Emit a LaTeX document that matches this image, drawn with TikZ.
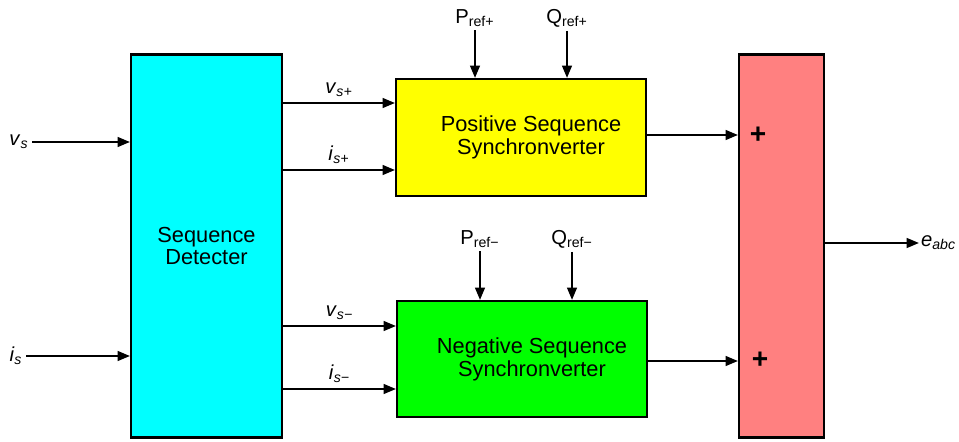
\documentclass[tikz,border=0pt]{standalone}
\usepackage{fontspec}
\setmainfont{Liberation Sans}
\usetikzlibrary{arrows.meta, positioning}
\definecolor{detcyan}{RGB}{0,255,255}
\definecolor{posyellow}{RGB}{255,255,0}
\definecolor{neggreen}{RGB}{0,255,0}
\definecolor{sumred}{RGB}{255,128,128}
\newcommand{\sig}[2]{\textit{#1}\textsubscript{\textit{#2}}}
\newcommand{\refsig}[2]{#1\textsubscript{#2}}

\begin{document}
\begin{tikzpicture}[
      x=0.02cm, y=-0.02cm,
      font=\fontsize{12.4}{13}\selectfont,
      block/.style={draw, line width=1.2pt, align=center, inner sep=0pt},
      lbl/.style={inner sep=2pt, font=\fontsize{11.5}{13}\selectfont},
      arr/.style={-{Triangle[length=7pt, width=5.5pt]}, line width=1.2pt},
  ]
  \useasboundingbox (0,0) rectangle (959,442);

  %% blocks
  \node[block, fill=detcyan, minimum width=3.02cm, minimum height=7.66cm]
        (det) at (206.5,246) {Sequence\\Detecter};
  \node[block, fill=posyellow, minimum width=5.0cm, minimum height=2.34cm]
        (pos) at (521,137.5) {\hspace{0.4cm}Positive Sequence\\\hspace{0.4cm}Synchronverter};
  \node[block, fill=neggreen, minimum width=5.0cm, minimum height=2.32cm]
        (neg) at (522,359) {\hspace{0.4cm}Negative Sequence\\\hspace{0.4cm}Synchronverter};
  \node[block, fill=sumred, minimum width=1.7cm, minimum height=7.66cm]
        (sum) at (781.5,246) {};

  %% signs on the adder
  \node[font=\fontsize{16}{16}\selectfont\bfseries] (plusA) at (758,135) {+};
  \node[font=\fontsize{16}{16}\selectfont\bfseries] (plusB) at (760,360) {+};

  %% inputs and outputs
  \node[lbl] (vs) at (19,142) {\sig{v}{s}};
  \node[lbl] (is) at (16,356) {\sig{i}{s}};
  \node[lbl, anchor=west, inner sep=1pt] (eabc) at (919,243) {\sig{e}{abc}};

  \node[lbl] (prefp) at (475,18) {\refsig{P}{ref+}};
  \node[lbl] (qrefp) at (567,18) {\refsig{Q}{ref+}};
  \node[lbl] (prefn) at (480,239) {\refsig{P}{ref−}};
  \node[lbl] (qrefn) at (572,239) {\refsig{Q}{ref−}};

  %% arrows
  \draw[arr] (vs.east) -- (vs -| det.west);
  \draw[arr] (is.east) -- (is -| det.west);

  \draw[arr] (det.east |- {0,103}) -- node[lbl, above=1pt]{\sig{v}{s+}} (pos.west |- {0,103});
  \draw[arr] (det.east |- {0,170}) -- node[lbl, above=1pt]{\sig{i}{s+}} (pos.west |- {0,170});
  \draw[arr] (det.east |- {0,326}) -- node[lbl, above=1pt]{\sig{v}{s−}} (neg.west |- {0,326});
  \draw[arr] (det.east |- {0,389}) -- node[lbl, above=1pt]{\sig{i}{s−}} (neg.west |- {0,389});

  \draw[arr] (prefp.south) -- (prefp |- pos.north);
  \draw[arr] (qrefp.south) -- (qrefp |- pos.north);
  \draw[arr] (prefn.south) -- (prefn |- neg.north);
  \draw[arr] (qrefn.south) -- (qrefn |- neg.north);

  \draw[arr] (pos.east |- {0,135}) -- (sum.west |- {0,135});
  \draw[arr] (neg.east |- {0,361}) -- (sum.west |- {0,361});
  \draw[arr] (sum.east |- eabc) -- (eabc.west);

\end{tikzpicture}
\end{document}
